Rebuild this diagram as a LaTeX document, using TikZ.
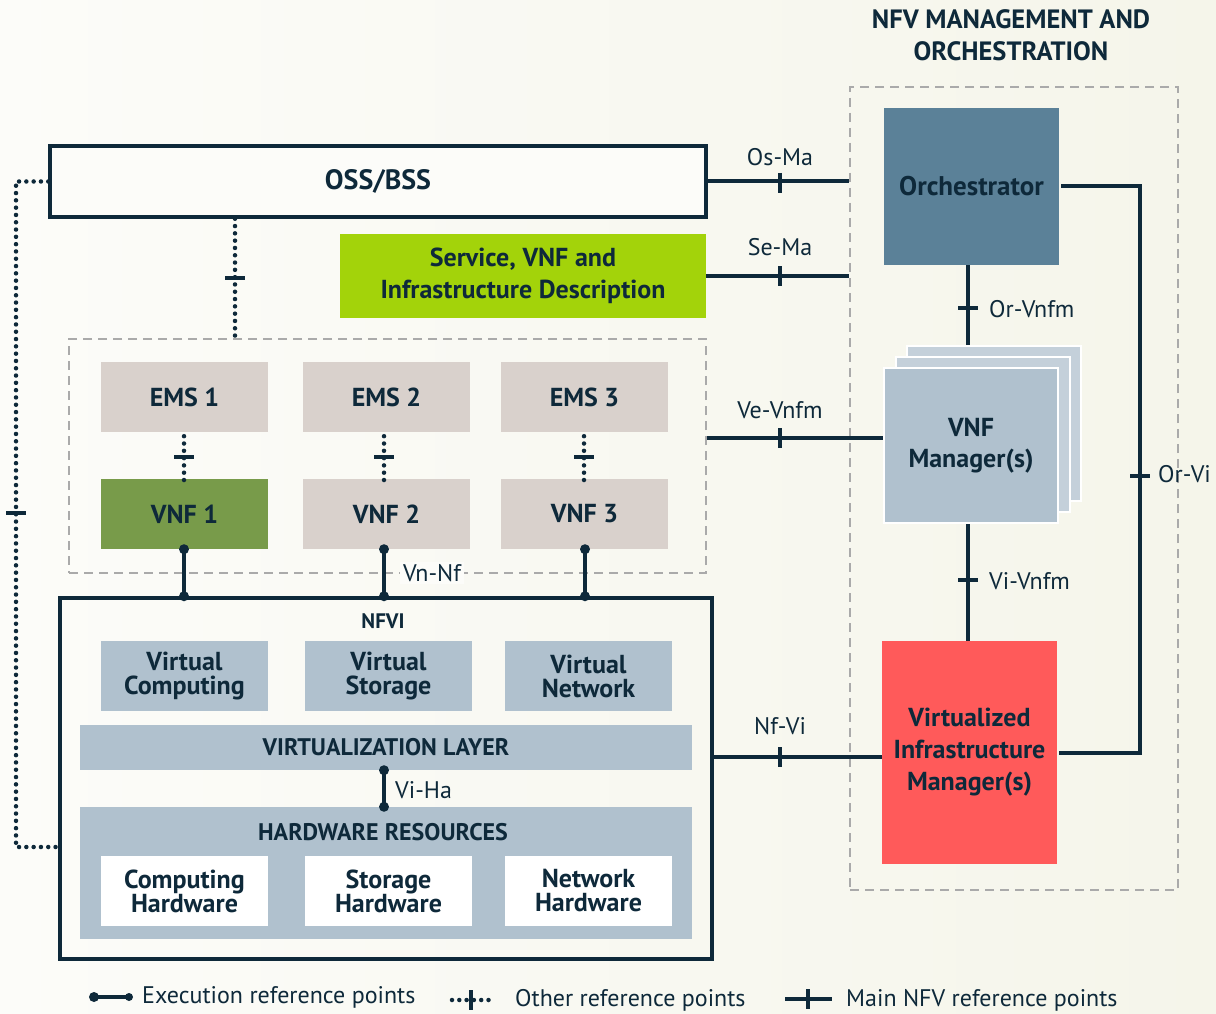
\documentclass[tikz,border=0pt]{standalone}
\usepackage{fontspec}
\setmainfont{PT Sans}
\usetikzlibrary{calc}
\definecolor{navy}{RGB}{14,41,58}
\definecolor{orchc}{RGB}{91,129,152}
\definecolor{vimc}{RGB}{255,90,90}
\definecolor{descc}{RGB}{163,211,10}
\definecolor{vnfgreen}{RGB}{120,155,74}
\definecolor{emsc}{RGB}{217,209,204}
\definecolor{subc}{RGB}{176,193,206}
\definecolor{backc}{RGB}{196,208,218}
\definecolor{dashc}{RGB}{170,170,170}
\definecolor{bgl}{RGB}{252,252,249}
\definecolor{bgr}{RGB}{245,245,234}
\begin{document}
\begin{tikzpicture}[x=1pt,y=-1pt,
  box/.style={rectangle, inner sep=0, align=center, text=navy, font=\bfseries\fontsize{26}{24}\selectfont},
  bigbox/.style={box, font=\bfseries\fontsize{26}{32}\selectfont},
  main/.style={draw=navy, line width=4},
  dotl/.style={draw=navy, line width=4.5, line cap=round, dash pattern=on 0pt off 7.3pt},
  tickm/.style={draw=navy, line width=4.5},
  grayd/.style={draw=dashc, line width=2.5, dash pattern=on 9pt off 6pt},
  lbl/.style={text=navy, inner sep=0, font=\fontsize{24}{26}\selectfont}]
\shade[left color=bgl, right color=bgr] (0,0) rectangle (1216,1014);
\useasboundingbox (0,0) rectangle (1216,1014);

% title
\node[box, font=\bfseries\fontsize{26.5}{32}\selectfont] (title) at (1011,35) {NFV MANAGEMENT AND\\ORCHESTRATION};

% dashed groups
\node[grayd, minimum width=328, minimum height=803, inner sep=0] (mano) at (1014,488.5) {};
\node[grayd, minimum width=637, minimum height=234, inner sep=0] (emsg) at (387.5,456) {};

% OSS and description
\node[box, draw=navy, line width=3.5, fill=bgl, minimum width=656, minimum height=71, font=\bfseries\fontsize{28}{30}\selectfont] (oss) at (378,181.5) {OSS/BSS};
\node[bigbox, fill=descc, minimum width=366, minimum height=84] (desc) at (523,276) {Service, VNF and\\Infrastructure Description};

% EMS / VNF
\node[box, fill=emsc, minimum width=167, minimum height=70] (ems1) at (184.5,397) {EMS 1};
\node[box, fill=emsc, minimum width=167, minimum height=70] (ems2) at (386.5,397) {EMS 2};
\node[box, fill=emsc, minimum width=167, minimum height=70] (ems3) at (584.5,397) {EMS 3};
\node[box, fill=vnfgreen, minimum width=167, minimum height=70] (vnf1) at (184.5,514) {VNF 1};
\node[box, fill=emsc, minimum width=167, minimum height=70] (vnf2) at (386.5,514) {VNF 2};
\node[box, fill=emsc, minimum width=167, minimum height=70] (vnf3) at (584.5,514) {VNF 3};

% NFVI
\node[draw=navy, line width=3.5, minimum width=652, minimum height=361, inner sep=0] (nfvi) at (386,778.5) {};
\node[box, font=\bfseries\fontsize{21}{24}\selectfont] (nfvit) at (383,621) {NFVI};
\node[box, fill=subc, minimum width=167, minimum height=70] (vcomp) at (184.5,676) {Virtual\\Computing};
\node[box, fill=subc, minimum width=167, minimum height=70] (vstor) at (388.5,676) {Virtual\\Storage};
\node[box, fill=subc, minimum width=167, minimum height=70] (vnet) at (588.5,676) {Virtual\\Network};
\node[box, fill=subc, minimum width=612, minimum height=45, font=\bfseries\fontsize{24}{24}\selectfont] (vlayer) at (386,747.5) {VIRTUALIZATION LAYER};
\node[fill=subc, minimum width=612, minimum height=132, inner sep=0] (hw) at (386,873) {};
\node[box, font=\bfseries\fontsize{24}{24}\selectfont] (hwt) at (383,832) {HARDWARE RESOURCES};
\node[box, fill=white, minimum width=167, minimum height=70] (chw) at (184.5,891) {Computing\\Hardware};
\node[box, fill=white, minimum width=167, minimum height=70] (shw) at (388.5,891) {Storage\\Hardware};
\node[box, fill=white, minimum width=167, minimum height=70] (nhw) at (588.5,891) {Network\\Hardware};

% MANO blocks
\node[box, fill=orchc, minimum width=175, minimum height=157, font=\bfseries\fontsize{27}{30}\selectfont] (orch) at (971.5,186.5) {Orchestrator};
\node[fill=backc, draw=white, line width=2, minimum width=174, minimum height=155, inner sep=0] (vnfmc) at (994,423) {};
\node[fill=backc, draw=white, line width=2, minimum width=174, minimum height=155, inner sep=0] (vnfmb) at (983,434) {};
\node[bigbox, font=\bfseries\fontsize{26}{31}\selectfont, fill=subc, draw=white, line width=2, minimum width=174, minimum height=155] (vnfm) at (971,445.5) {VNF\\Manager(s)};
\node[bigbox, fill=vimc, minimum width=175, minimum height=223] (vim) at (969.5,752.5) {Virtualized\\Infrastructure\\Manager(s)};

% main reference points
\draw[main] (oss.east) -- (oss.east -| mano.west);
\draw[tickm] (780,173) -- (780,193);
\node[lbl] (osma) at (780,157) {Os-Ma};
\draw[main] (desc.east) -- (desc.east -| mano.west);
\draw[tickm] (780,266) -- (780,286);
\node[lbl] (sema) at (780,247) {Se-Ma};
\draw[main] (emsg.east |- 0,438) -- (vnfm.west |- 0,438);
\draw[tickm] (780,428) -- (780,448);
\node[lbl] (vevnfm) at (780,410) {Ve-Vnfm};
\draw[main] (nfvi.east |- 0,757) -- (vim.west |- 0,757);
\draw[tickm] (780,747) -- (780,767);
\node[lbl] (nfvi2) at (780,726) {Nf-Vi};
\draw[main] (orch.south -| 968,0) -- (968,0 |- vnfmc.north);
\draw[tickm] (958,308) -- (978,308);
\node[lbl, anchor=west] (orvnfm) at (989,309) {Or-Vnfm};
\draw[main] (vnfm.south -| 968,0) -- (968,0 |- vim.north);
\draw[tickm] (958,580) -- (978,580);
\node[lbl, anchor=west] (vivnfm) at (989,581) {Vi-Vnfm};
\draw[main] ([xshift=2]orch.east) -- (1140,186.5) |- ([xshift=2]vim.east);
\draw[tickm] (1130,476) -- (1150,476);
\node[lbl, anchor=west] (orvi) at (1158,474) {Or-Vi};

% other reference points
\draw[dotl] (oss.south -| 235,0) -- (235,0 |- emsg.north);
\draw[tickm] (225,278) -- (245,278);
\foreach \e/\v/\x in {ems1/vnf1/184, ems2/vnf2/384, ems3/vnf3/584}{
  \draw[dotl] (\e.south -| \x,0) ++(0,4) -- ([yshift=-4]\x,0 |- \v.north);
  \draw[tickm] (\x-10,457) -- (\x+10,457);
}
\draw[dotl] (oss.west) -- (16,181.5) -- (16,847) -- (nfvi.west |- 0,847);
\draw[tickm] (6,513) -- (26,513);

% execution reference points
\foreach \v/\x in {vnf1/184, vnf2/384, vnf3/585}{
  \draw[main] (\v.south -| \x,0) -- (\x,0 |- nfvi.north);
  \fill[navy] (\v.south -| \x,0) circle (5);
  \fill[navy] (\x,0 |- nfvi.north) circle (5);
}
\node[lbl, fill=bgl, inner xsep=3, inner ysep=2] (vnnf) at (432,573) {Vn-Nf};
\draw[main] (vlayer.south -| 384,0) -- (384,0 |- hw.north);
\fill[navy] (vlayer.south -| 384,0) circle (5);
\fill[navy] (384,0 |- hw.north) circle (5);
\node[lbl, anchor=west] (viha) at (395,790) {Vi-Ha};

% legend
\coordinate (l1a) at (94,997);
\coordinate (l1b) at (129,997);
\draw[main] (l1a) -- (l1b);
\fill[navy] (l1a) circle (5);
\fill[navy] (l1b) circle (4);
\node[lbl, anchor=west] (leg1) at (142,997) {Execution reference points};
\coordinate (l2a) at (452,1000);
\coordinate (l2b) at (490,1000);
\draw[dotl] (l2a) -- (l2b);
\draw[tickm] (471,990) -- (471,1010);
\node[lbl, anchor=west] (leg2) at (515,1000) {Other reference points};
\coordinate (l3a) at (785,999);
\coordinate (l3b) at (832,999);
\draw[main] (l3a) -- (l3b);
\draw[tickm] (808,989) -- (808,1009);
\node[lbl, anchor=west] (leg3) at (846,1000) {Main NFV reference points};
\end{tikzpicture}
\end{document}
